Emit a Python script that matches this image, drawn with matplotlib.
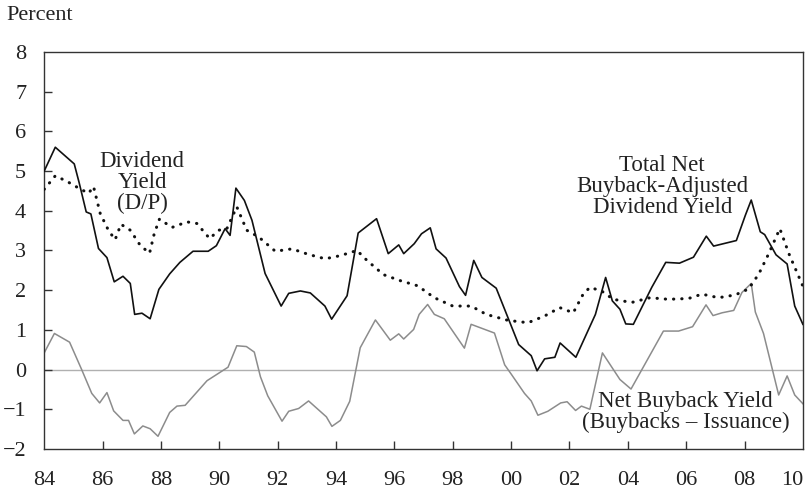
import numpy as np
import matplotlib.pyplot as plt

plt.switch_backend('agg')
plt.rcParams['font.family'] = ['Liberation Serif', 'DejaVu Serif']

# Total net buyback-adjusted dividend yield (solid black)
total_x = [84.0, 84.38, 85.03, 85.2, 85.44, 85.6, 85.86, 86.15, 86.4, 86.7, 86.95, 87.1,
           87.35, 87.63, 87.93, 88.3, 88.65, 89.1, 89.62, 89.9, 90.2, 90.37, 90.57, 90.86,
           91.12, 91.57, 92.12, 92.38, 92.78, 93.12, 93.62, 93.85, 94.38, 94.76, 95.39,
           95.79, 96.15, 96.32, 96.68, 96.93, 97.23, 97.43, 97.77, 98.23, 98.44, 98.72,
           99.0, 99.49, 99.87, 100.26, 100.69, 100.89, 101.15, 101.5, 101.68, 102.22,
           102.89, 103.24, 103.47, 103.73, 103.93, 104.19, 104.82, 105.3, 105.77, 106.25,
           106.69, 106.94, 107.72, 108.03, 108.23, 108.54, 108.69, 109.08, 109.46, 109.72,
           110.0]
total_y = [5.0, 5.6, 5.18, 4.7, 3.97, 3.92, 3.05, 2.82, 2.21, 2.35, 2.17, 1.39,
           1.42, 1.28, 2.02, 2.41, 2.70, 2.98, 2.98, 3.12, 3.55, 3.38, 4.57, 4.26,
           3.76, 2.42, 1.60, 1.92, 1.98, 1.93, 1.60, 1.27, 1.86, 3.44, 3.80,
           2.92, 3.14, 2.92, 3.17, 3.42, 3.57, 3.04, 2.81, 2.09, 1.87, 2.75,
           2.32, 2.05, 1.35, 0.63, 0.35, -0.03, 0.27, 0.31, 0.67, 0.31,
           1.39, 2.32, 1.73, 1.52, 1.15, 1.14, 2.07, 2.70, 2.68, 2.83,
           3.36, 3.11, 3.25, 3.89, 4.27, 3.47, 3.40, 2.89, 2.66, 1.60,
           1.14]

# Dividend yield D/P (dotted)
dp_x = [84.0, 84.38, 84.78, 85.23, 85.52, 85.69, 85.92, 86.2, 86.43, 86.63, 86.95, 87.29,
        87.61, 87.77, 87.95, 88.38, 88.89, 89.23, 89.67, 89.98, 90.26, 90.6, 90.94, 91.35,
        91.92, 92.49, 93.06, 93.63, 94.15, 94.72, 95.06, 95.63, 96.2, 96.8, 97.37,
        98.0, 98.63, 99.15, 99.89, 100.58, 101.15, 101.67, 102.13, 102.47, 102.7, 103.1,
        103.5, 104.13, 104.76, 105.39, 106.08, 106.54, 107.11, 107.68, 108.14, 108.49,
        108.83, 109.21, 109.52, 110.0]
dp_y = [4.54, 4.88, 4.74, 4.55, 4.44, 4.61, 3.93, 3.51, 3.27, 3.66, 3.51, 3.13,
        2.93, 3.42, 3.79, 3.58, 3.72, 3.68, 3.30, 3.51, 3.55, 4.10, 3.51, 3.34,
        2.98, 3.04, 2.90, 2.79, 2.87, 3.00, 2.75, 2.39, 2.24, 2.11, 1.81,
        1.60, 1.60, 1.39, 1.24, 1.18, 1.35, 1.56, 1.43, 1.90, 2.07, 1.98,
        1.77, 1.69, 1.81, 1.77, 1.79, 1.90, 1.81, 1.88, 2.03, 2.41,
        2.92, 3.55, 2.92, 2.10]

# Net buyback yield (gray)
net_x = [84.0, 84.35, 84.87, 85.29, 85.63, 85.9, 86.15, 86.38, 86.7, 86.89, 87.09, 87.38,
         87.63, 87.9, 88.3, 88.55, 88.83, 89.58, 90.3, 90.6, 90.93, 91.2, 91.41, 91.66,
         92.15, 92.38, 92.72, 93.06, 93.67, 93.86, 94.15, 94.47, 94.83, 95.35, 95.86,
         96.15, 96.32, 96.66, 96.85, 97.14, 97.37, 97.71, 98.4, 98.63, 99.43, 99.78,
         100.01, 100.46, 100.69, 100.92, 101.26, 101.7, 101.92, 102.21, 102.41, 102.7,
         103.13, 103.73, 104.11, 105.22, 105.74, 106.22, 106.68, 106.92, 107.23, 107.63,
         107.91, 108.23, 108.37, 108.65, 109.17, 109.46, 109.72, 110.0]
net_y = [0.42, 0.91, 0.69, -0.01, -0.60, -0.84, -0.58, -1.04, -1.28, -1.28, -1.62, -1.42,
         -1.49, -1.68, -1.08, -0.92, -0.90, -0.28, 0.06, 0.60, 0.58, 0.44, -0.18, -0.66,
         -1.30, -1.05, -0.98, -0.79, -1.19, -1.43, -1.28, -0.80, 0.55, 1.25, 0.74,
         0.90, 0.77, 1.01, 1.39, 1.64, 1.39, 1.28, 0.54, 1.14, 0.92, 0.12,
         -0.12, -0.60, -0.79, -1.15, -1.05, -0.84, -0.81, -1.03, -0.92, -1.00,
         0.42, -0.25, -0.49, 0.97, 0.97, 1.08, 1.63, 1.36, 1.43, 1.49,
         1.94, 2.17, 1.45, 0.91, -0.64, -0.16, -0.64, -0.86]

year_ticks = [84, 86, 88, 90, 92, 94, 96, 98, 100, 102, 104, 106, 108, 110]
year_labels = ['84', '86', '88', '90', '92', '94', '96', '98', '00', '02', '04', '06', '08', '10']

fig = plt.figure(figsize=(8.11, 4.90), dpi=100)
ax = fig.add_axes([0.0545, 0.0837, 0.9355, 0.8103])

ax.axhline(0, color='#b0b0b0', lw=1.0, zorder=1)
ax.plot(net_x, net_y, color='#8c8c8c', lw=1.1, zorder=2)
ax.plot(dp_x, dp_y, color='#111111', lw=2.2, linestyle=(0, (0.1, 2.6)),
        dash_capstyle='round', zorder=3)
ax.plot(total_x, total_y, color='#111111', lw=1.2, zorder=4)

ax.set_xlim(84, 110)
ax.set_ylim(-2, 8)
ax.set_xticks(year_ticks)
ax.set_xticklabels(year_labels)
ax.set_yticks(range(-2, 9))
ax.tick_params(axis='x', direction='in', length=6, width=1, pad=16, labelsize=16,
               color='#333333', labelcolor='#222222')
ax.tick_params(axis='y', direction='in', length=6, width=1, pad=13, labelsize=16,
               color='#333333', labelcolor='#222222')
# no tick marks on the end points of the axes
for t in (ax.xaxis.get_major_ticks()[0], ax.xaxis.get_major_ticks()[-1]):
    t.tick1line.set_visible(False)
for t in (ax.yaxis.get_major_ticks()[0], ax.yaxis.get_major_ticks()[-1]):
    t.tick1line.set_visible(False)
ax.get_xticklabels()[-1].set_horizontalalignment('right')
ax.get_xticklabels()[-1].set_x(110.5)
for s in ax.spines.values():
    s.set_color('#333333')
    s.set_linewidth(1.0)

# Series labels
ax.text(87.36, 4.72, 'Dividend\nYield\n(D/P)', ha='center', va='center',
        fontsize=16.5, linespacing=1.0, color='#222222')
ax.text(105.18, 4.60, 'Total Net\nBuyback-Adjusted\nDividend Yield', ha='center',
        va='center', fontsize=16.5, linespacing=1.0, color='#222222')
ax.text(105.98, -1.07, 'Net Buyback Yield\n(Buybacks \u2013 Issuance)', ha='center',
        va='center', fontsize=16.5, linespacing=1.0, color='#222222')

fig.text(0.008, 0.968, 'Percent', ha='left', va='center', fontsize=16, color='#222222')

plt.savefig('out.png', dpi=100)
